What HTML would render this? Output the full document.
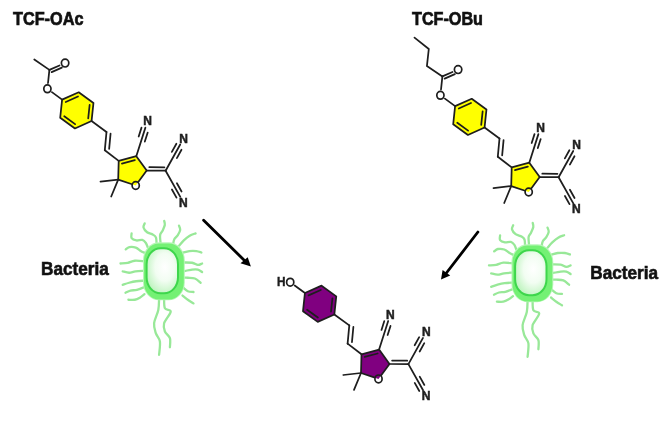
<!DOCTYPE html>
<html><head><meta charset="utf-8"><style>html,body{margin:0;padding:0;background:#fff;width:667px;height:421px;overflow:hidden}svg{display:block;will-change:transform}</style></head>
<body><svg width="667" height="421" viewBox="0 0 667 421">
<defs>
<radialGradient id="ig" cx="0.58" cy="0.42" r="0.62">
<stop offset="0" stop-color="#ffffff"/><stop offset="0.5" stop-color="#f2fdf2"/><stop offset="1" stop-color="#c0f4c0"/>
</radialGradient>
<g id="coreY"><polygon points="62.11,99.67 78.73,92.27 93.46,102.97 91.55,121.07 74.93,128.47 60.20,117.77" fill="#ffff00" stroke="none"/>
<polygon points="118.70,160.90 136.30,156.20 146.70,170.60 135.70,185.50 118.20,179.60" fill="#ffff00" stroke="none"/>
<g stroke="#1e1e1e" stroke-width="1.75" stroke-linecap="round" fill="none">
<polygon points="62.11,99.67 78.73,92.27 93.46,102.97 91.55,121.07 74.93,128.47 60.20,117.77" stroke-linejoin="round"/>
<line x1="65.76" y1="101.98" x2="78.00" y2="96.53"/>
<line x1="89.63" y1="104.98" x2="88.22" y2="118.30"/>
<line x1="75.10" y1="124.15" x2="64.26" y2="116.27"/>
<line x1="51.90" y1="92.13" x2="62.11" y2="99.67"/>
<line x1="91.55" y1="121.07" x2="106.50" y2="132.00"/>
<line x1="106.50" y1="132.00" x2="104.80" y2="150.20"/>
<line x1="104.80" y1="150.20" x2="118.70" y2="160.90"/>
<line x1="110.57" y1="133.59" x2="109.15" y2="148.80"/>
<polyline points="131.34,184.03 118.20,179.60 118.70,160.90 136.30,156.20 146.70,170.60 138.43,181.80" stroke-linejoin="round"/>
<line x1="121.90" y1="163.57" x2="134.86" y2="160.10"/>
<line x1="118.20" y1="179.60" x2="100.50" y2="181.60"/>
<line x1="118.20" y1="179.60" x2="111.20" y2="196.50"/>
<line x1="146.70" y1="170.60" x2="165.60" y2="170.70"/>
<line x1="149.32" y1="167.21" x2="164.42" y2="167.29"/>
<line x1="136.30" y1="156.20" x2="145.40" y2="127.61"/>
<line x1="144.83" y1="141.60" x2="147.71" y2="132.55"/>
<line x1="138.69" y1="136.50" x2="141.51" y2="127.63"/>
<line x1="165.60" y1="170.70" x2="180.21" y2="144.50"/>
<line x1="176.87" y1="158.09" x2="181.49" y2="149.79"/>
<line x1="171.87" y1="151.87" x2="176.39" y2="143.74"/>
<line x1="165.60" y1="170.70" x2="180.30" y2="196.85"/>
<line x1="171.93" y1="189.51" x2="176.48" y2="197.62"/>
<line x1="176.91" y1="183.27" x2="181.56" y2="191.55"/>
</g>
<g font-family="Liberation Sans" font-weight="bold" font-size="12" fill="#1e1e1e" stroke="#1e1e1e" stroke-width="0.5" text-anchor="middle">
<text x="147.50" y="125.30">N</text>
<text x="183.50" y="142.90">N</text>
<text x="183.30" y="206.50">N</text>
</g>
<g fill="none" stroke="#1e1e1e" stroke-width="1.7">
<ellipse cx="47.4" cy="88.8" rx="3.6" ry="3.9"/>
<ellipse cx="135.7" cy="185.5" rx="3.6" ry="3.9"/>
</g></g>
<g id="bact"><g stroke="#98e898" stroke-width="2.3" fill="none" stroke-linecap="round" stroke-linejoin="round">
<path d="M-18.80,-47.90 C-19.00,-47.22 -20.40,-45.28 -20.00,-43.80 C-19.60,-42.32 -17.98,-40.20 -16.40,-39.00 C-14.82,-37.80 -11.98,-37.48 -10.50,-36.60 C-9.02,-35.72 -8.10,-35.30 -7.50,-33.70 C-6.90,-32.10 -7.00,-28.12 -6.90,-27.00"/>
<path d="M0.70,-50.40 C0.80,-49.70 1.60,-47.90 1.30,-46.20 C1.00,-44.50 -0.32,-41.90 -1.10,-40.20 C-1.88,-38.50 -3.12,-38.20 -3.40,-36.00 C-3.68,-33.80 -2.90,-28.50 -2.80,-27.00"/>
<path d="M15.50,-45.60 C15.70,-44.90 16.90,-42.98 16.70,-41.40 C16.50,-39.82 15.28,-37.67 14.30,-36.10 C13.32,-34.53 11.58,-33.52 10.80,-32.00 C10.02,-30.48 9.80,-27.83 9.60,-27.00"/>
<path d="M32.10,-37.90 C31.12,-37.50 28.17,-36.68 26.20,-35.50 C24.23,-34.32 22.08,-32.47 20.30,-30.80 C18.52,-29.13 16.30,-26.38 15.50,-25.50"/>
<path d="M-31.90,-37.80 C-31.90,-37.02 -32.70,-34.27 -31.90,-33.10 C-31.10,-31.93 -28.88,-31.10 -27.10,-30.80 C-25.32,-30.50 -22.78,-31.72 -21.20,-31.30 C-19.62,-30.88 -18.50,-29.53 -17.60,-28.30 C-16.70,-27.07 -16.10,-24.63 -15.80,-23.90"/>
<path d="M-37.80,-21.90 C-37.20,-22.28 -35.88,-23.90 -34.20,-24.20 C-32.52,-24.50 -29.67,-24.38 -27.70,-23.70 C-25.73,-23.02 -23.93,-21.00 -22.40,-20.10 C-20.87,-19.20 -19.15,-18.60 -18.50,-18.30"/>
<path d="M-43.00,-7.75 C-41.80,-7.86 -38.18,-7.94 -35.80,-8.40 C-33.42,-8.86 -31.50,-10.25 -28.70,-10.50 C-25.90,-10.75 -20.62,-10.00 -19.00,-9.90"/>
<path d="M-40.80,0.10 C-39.73,0.33 -36.53,1.50 -34.40,1.50 C-32.27,1.50 -30.57,0.45 -28.00,0.10 C-25.43,-0.25 -20.50,-0.48 -19.00,-0.60"/>
<path d="M-40.80,13.60 C-39.73,13.25 -36.65,12.10 -34.40,11.50 C-32.15,10.90 -29.87,10.35 -27.30,10.00 C-24.73,9.65 -20.38,9.50 -19.00,9.40"/>
<path d="M-38.00,21.50 C-37.17,21.13 -34.90,19.78 -33.00,19.30 C-31.10,18.82 -28.93,19.18 -26.60,18.60 C-24.27,18.02 -20.27,16.27 -19.00,15.80"/>
<path d="M-35.10,28.50 C-34.03,28.50 -30.60,28.85 -28.70,28.50 C-26.80,28.15 -25.32,27.33 -23.70,26.40 C-22.08,25.47 -19.78,23.48 -19.00,22.90"/>
<path d="M37.90,-18.75 C37.07,-18.99 34.92,-19.96 32.90,-20.20 C30.88,-20.44 28.12,-20.48 25.80,-20.20 C23.48,-19.92 20.13,-18.78 19.00,-18.50"/>
<path d="M38.60,-7.75 C37.88,-7.51 35.97,-6.17 34.30,-6.30 C32.63,-6.42 31.15,-8.09 28.60,-8.50 C26.05,-8.91 20.60,-8.71 19.00,-8.75"/>
<path d="M38.60,0.85 C37.88,0.43 35.97,-1.23 34.30,-1.65 C32.63,-2.07 31.15,-1.95 28.60,-1.65 C26.05,-1.35 20.60,-0.15 19.00,0.15"/>
<path d="M37.10,11.50 C36.15,10.78 33.53,8.03 31.40,7.20 C29.27,6.37 26.37,6.62 24.30,6.50 C22.23,6.38 19.88,6.50 19.00,6.50"/>
<path d="M30.00,20.75 C29.05,20.62 26.13,20.82 24.30,20.00 C22.47,19.18 19.88,16.50 19.00,15.80"/>
<path d="M30.00,32.10 C29.05,31.50 26.13,29.80 24.30,28.50 C22.47,27.20 19.88,25.00 19.00,24.30"/>
<path d="M-4.40,27.00 C-4.53,28.96 -4.37,34.59 -5.20,38.75 C-6.03,42.91 -8.98,48.08 -9.40,51.95 C-9.82,55.82 -8.67,58.90 -7.70,61.95 C-6.73,65.00 -4.15,66.65 -3.60,70.25 C-3.05,73.85 -4.27,81.33 -4.40,83.55"/>
<path d="M0.60,27.00 C0.73,28.68 0.30,34.82 1.40,37.05 C2.50,39.27 7.33,37.87 7.20,40.35 C7.07,42.83 1.57,48.63 0.60,51.95 C-0.37,55.27 0.43,57.75 1.40,60.25 C2.37,62.75 5.57,64.32 6.40,66.95 C7.23,69.58 6.40,74.53 6.40,76.05"/>
</g>
<rect x="-20.5" y="-29" width="41.8" height="58" rx="16" ry="18" fill="#b8f6b8"/>
<rect x="-19.5" y="-27.8" width="39.8" height="56" rx="15" ry="17" fill="#74f174"/>
<rect x="-16.9" y="-23" width="31.4" height="45" rx="14" ry="16" fill="url(#ig)" stroke="#3ed64c" stroke-width="2"/></g>
</defs>
<rect width="667" height="421" fill="#ffffff"/>
<text x="13" y="25.3" font-family="Liberation Sans" font-weight="bold" font-size="18.6" fill="#111" stroke="#111" stroke-width="0.7" textLength="70.5" lengthAdjust="spacingAndGlyphs">TCF-OAc</text>
<text x="412" y="25.0" font-family="Liberation Sans" font-weight="bold" font-size="18.6" fill="#111" stroke="#111" stroke-width="0.7" textLength="71" lengthAdjust="spacingAndGlyphs">TCF-OBu</text>
<text x="41" y="274.8" font-family="Liberation Sans" font-weight="bold" font-size="17.8" fill="#111" stroke="#111" stroke-width="0.6" textLength="67.8" lengthAdjust="spacingAndGlyphs">Bacteria</text>
<text x="590.3" y="279.0" font-family="Liberation Sans" font-weight="bold" font-size="17.8" fill="#111" stroke="#111" stroke-width="0.6" textLength="67.8" lengthAdjust="spacingAndGlyphs">Bacteria</text>
<use href="#coreY"/>
<g stroke="#1e1e1e" stroke-width="1.75" stroke-linecap="round" fill="none">
<line x1="49.40" y1="69.90" x2="48.01" y2="83.03"/>
<line x1="49.40" y1="69.90" x2="59.49" y2="65.53"/>
<line x1="51.65" y1="72.08" x2="61.85" y2="67.67"/>
</g>
<ellipse cx="65.1" cy="63.1" rx="3.7" ry="3.9" fill="none" stroke="#1e1e1e" stroke-width="1.7"/>
<g stroke="#1e1e1e" stroke-width="1.75" stroke-linecap="round" fill="none"><line x1="34.30" y1="59.50" x2="49.40" y2="69.90"/></g>
<g transform="translate(393,6.5)"><use href="#coreY"/><g stroke="#1e1e1e" stroke-width="1.75" stroke-linecap="round" fill="none">
<line x1="49.40" y1="69.90" x2="48.01" y2="83.03"/>
<line x1="49.40" y1="69.90" x2="59.49" y2="65.53"/>
<line x1="51.65" y1="72.08" x2="61.85" y2="67.67"/>
</g>
<ellipse cx="65.1" cy="63.1" rx="3.7" ry="3.9" fill="none" stroke="#1e1e1e" stroke-width="1.7"/>
<g stroke="#1e1e1e" stroke-width="1.75" stroke-linecap="round" stroke-linejoin="round" fill="none"><polyline points="21.5,31.1 35.8,42.5 33.9,59.6 49.40,69.90"/></g></g>
<g transform="translate(242.8,193.4)"><polygon points="62.11,99.67 78.73,92.27 93.46,102.97 91.55,121.07 74.93,128.47 60.20,117.77" fill="#800080" stroke="none"/>
<polygon points="118.70,160.90 136.30,156.20 146.70,170.60 135.70,185.50 118.20,179.60" fill="#800080" stroke="none"/>
<g stroke="#1e1e1e" stroke-width="1.75" stroke-linecap="round" fill="none">
<polygon points="62.11,99.67 78.73,92.27 93.46,102.97 91.55,121.07 74.93,128.47 60.20,117.77" stroke-linejoin="round"/>
<line x1="65.76" y1="101.98" x2="78.00" y2="96.53"/>
<line x1="89.63" y1="104.98" x2="88.22" y2="118.30"/>
<line x1="75.10" y1="124.15" x2="64.26" y2="116.27"/>
<line x1="51.90" y1="92.13" x2="62.11" y2="99.67"/>
<line x1="91.55" y1="121.07" x2="106.50" y2="132.00"/>
<line x1="106.50" y1="132.00" x2="104.80" y2="150.20"/>
<line x1="104.80" y1="150.20" x2="118.70" y2="160.90"/>
<line x1="110.57" y1="133.59" x2="109.15" y2="148.80"/>
<polyline points="131.34,184.03 118.20,179.60 118.70,160.90 136.30,156.20 146.70,170.60 138.43,181.80" stroke-linejoin="round"/>
<line x1="121.90" y1="163.57" x2="134.86" y2="160.10"/>
<line x1="118.20" y1="179.60" x2="100.50" y2="181.60"/>
<line x1="118.20" y1="179.60" x2="111.20" y2="196.50"/>
<line x1="146.70" y1="170.60" x2="165.60" y2="170.70"/>
<line x1="149.32" y1="167.21" x2="164.42" y2="167.29"/>
<line x1="136.30" y1="156.20" x2="145.40" y2="127.61"/>
<line x1="144.83" y1="141.60" x2="147.71" y2="132.55"/>
<line x1="138.69" y1="136.50" x2="141.51" y2="127.63"/>
<line x1="165.60" y1="170.70" x2="180.21" y2="144.50"/>
<line x1="176.87" y1="158.09" x2="181.49" y2="149.79"/>
<line x1="171.87" y1="151.87" x2="176.39" y2="143.74"/>
<line x1="165.60" y1="170.70" x2="180.30" y2="196.85"/>
<line x1="171.93" y1="189.51" x2="176.48" y2="197.62"/>
<line x1="176.91" y1="183.27" x2="181.56" y2="191.55"/>
</g>
<g font-family="Liberation Sans" font-weight="bold" font-size="12" fill="#1e1e1e" stroke="#1e1e1e" stroke-width="0.5" text-anchor="middle">
<text x="147.50" y="125.30">N</text>
<text x="183.50" y="142.90">N</text>
<text x="183.30" y="206.50">N</text>
</g>
<g fill="none" stroke="#1e1e1e" stroke-width="1.7">
<ellipse cx="47.4" cy="88.8" rx="3.6" ry="3.9"/>
<ellipse cx="135.7" cy="185.5" rx="3.6" ry="3.9"/>
</g></g>
<text x="277" y="286.3" font-family="Liberation Sans" font-weight="bold" font-size="12" fill="#1e1e1e" stroke="#1e1e1e" stroke-width="0.4" textLength="8.5" lengthAdjust="spacingAndGlyphs">H</text>
<use href="#bact" transform="translate(163.5,271.25)"/>
<use href="#bact" transform="translate(532,273.2)"/>
<g stroke="#000" stroke-width="2.8" stroke-linecap="round">
<line x1="203.6" y1="220.2" x2="245.5" y2="261.5"/>
<line x1="477.9" y1="232" x2="446" y2="273.5"/>
</g>
<polygon points="250.9,266.6 240.5,263.3 247.7,257.2" fill="#000"/>
<polygon points="441,279.4 442.6,270 450.2,275.5" fill="#000"/>
</svg></body></html>
